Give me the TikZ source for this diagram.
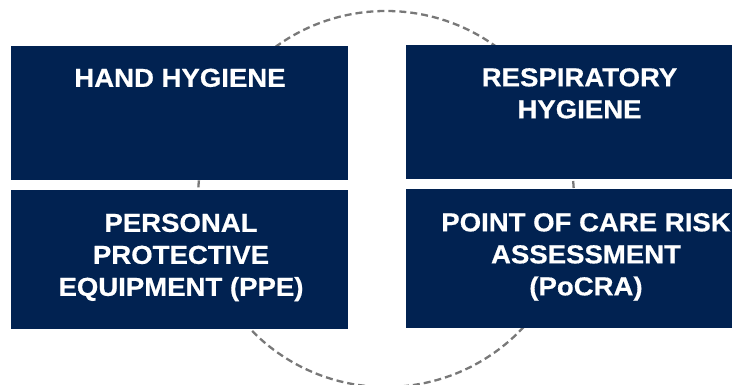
\documentclass[tikz,border=0pt]{standalone}
\usepackage{fontspec}
\setmainfont{Liberation Sans}[BoldFeatures={FakeStretch=1.06,FakeBold=0.6}]
\definecolor{navy}{RGB}{1,34,81}
\definecolor{dashgray}{RGB}{120,120,120}
\begin{document}
\begin{tikzpicture}[x=1pt,y=1pt,
  panel/.style={fill=navy,draw=none},
  label/.style={text=white,font={\fontsize{26}{32}\selectfont\bfseries},align=center,inner sep=0pt,anchor=north},
  ring/.style={draw=dashgray,line width=2.3pt,dash pattern=on 7pt off 4pt}]
\useasboundingbox (0,0) rectangle (732,385);
\draw[ring] (386,186) circle (188);
\fill[panel] (11,205) rectangle (348,339);
\fill[panel] (11,56) rectangle (348,195);
\fill[panel] (406,206) rectangle (760,340);
\fill[panel] (406,57) rectangle (760,196);
\node[label] (hh) at (180,316.5) {HAND HYGIENE};
\node[label] (rh) at (579.5,317) {RESPIRATORY\\HYGIENE};
\node[label] (ppe) at (181,171.5) {PERSONAL\\PROTECTIVE\\EQUIPMENT (PPE)};
\node[label] (pocra) at (586,172) {POINT OF CARE RISK\\ASSESSMENT\\(PoCRA)};
\end{tikzpicture}
\end{document}
